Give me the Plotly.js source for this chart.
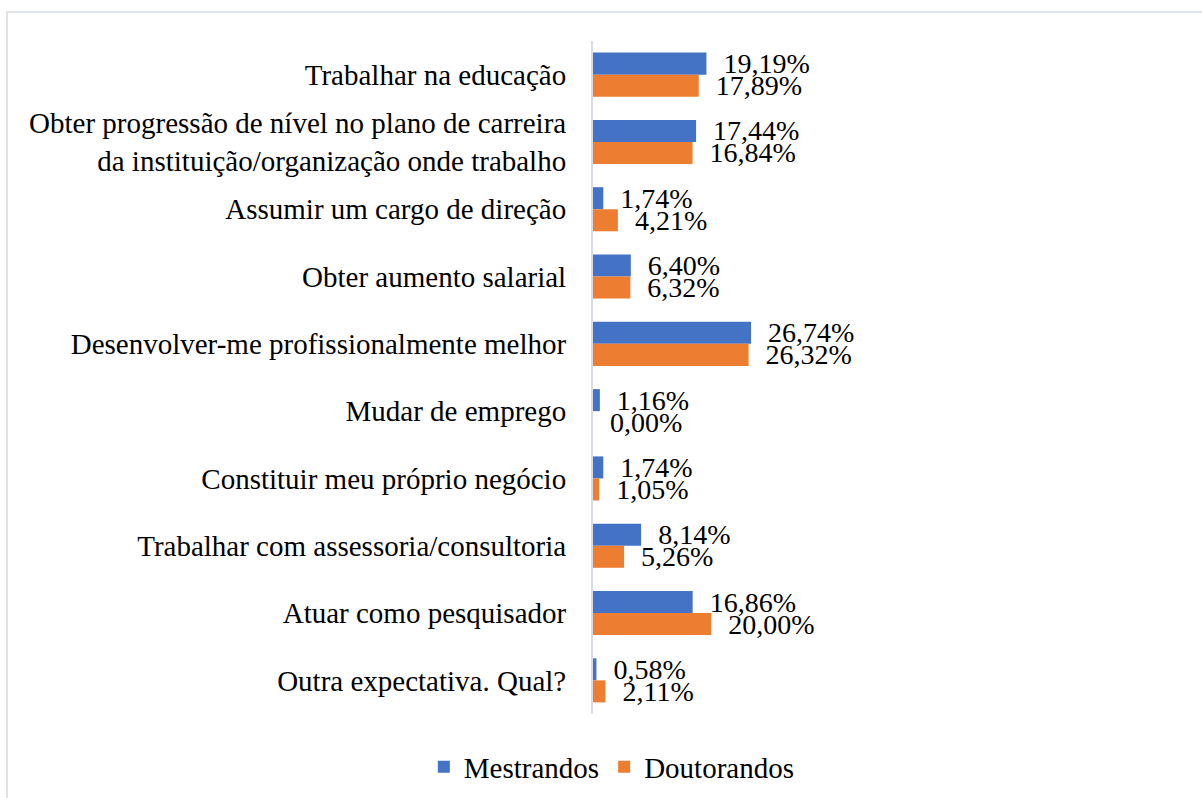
<!DOCTYPE html>
<html>
<head>
<meta charset="utf-8">
<script src="https://cdn.plot.ly/plotly-3.0.1.min.js"></script>
<style>
  html, body { margin: 0; padding: 0; background: #fff; }
  #chart { width: 1202px; height: 798px; position: absolute; left: 0; top: 0; }
  #chart text { font-family: "Liberation Serif", "Times New Roman", serif !important; }
  #frame { position: absolute; left: 6px; top: 11px; width: 1210px; height: 800px;
           border: 2px solid #dfe2e7; pointer-events: none; }
</style>
</head>
<body>
<div id="chart"></div>
<div id="frame"></div>
<script>
const categories = [
  "Trabalhar na educação",
  "Obter progressão de nível no plano de carreira<br>da instituição/organização onde trabalho",
  "Assumir um cargo de direção",
  "Obter aumento salarial",
  "Desenvolver-me profissionalmente melhor",
  "Mudar de emprego",
  "Constituir meu próprio negócio",
  "Trabalhar com assessoria/consultoria",
  "Atuar como pesquisador",
  "Outra expectativa. Qual?"
];
const mestrandos = [19.19, 17.44, 1.74, 6.40, 26.74, 1.16, 1.74, 8.14, 16.86, 0.58];
const doutorandos = [17.89, 16.84, 4.21, 6.32, 26.32, 0.00, 1.05, 5.26, 20.00, 2.11];
const seriesNames = ["Mestrandos", "Doutorandos"];

const font = "Times New Roman";

const traces = [
  {
    type: 'bar', orientation: 'h', name: seriesNames[0],
    y: categories, x: mestrandos,
    marker: { color: '#4472c4' },
    texttemplate: '\u00a0\u00a0%{x:.2f}%', textposition: 'outside',
    textfont: { family: font, size: 28, color: '#000' },
    constraintext: 'none', cliponaxis: false, hoverinfo: 'x+name'
  },
  {
    type: 'bar', orientation: 'h', name: seriesNames[1],
    y: categories, x: doutorandos,
    marker: { color: '#ed7d31' },
    texttemplate: '\u00a0\u00a0%{x:.2f}%', textposition: 'outside',
    textfont: { family: font, size: 28, color: '#000' },
    constraintext: 'none', cliponaxis: false, hoverinfo: 'x+name'
  }
];

const layout = {
  width: 1202, height: 798,
  paper_bgcolor: '#fff', plot_bgcolor: '#fff',
  separators: ',.',
  font: { family: font, size: 29, color: '#000' },
  margin: { l: 593, r: 22, t: 41, b: 84 },
  barmode: 'group', bargap: 0.345, bargroupgap: 0,
  xaxis: { range: [0, 99.3], showticklabels: false, showgrid: false, zeroline: false, showline: false, fixedrange: true },
  yaxis: {
    autorange: 'reversed', showline: true, linecolor: '#d9dde3', linewidth: 2,
    ticks: 'outside', ticklen: 19, tickcolor: 'rgba(0,0,0,0)',
    showgrid: false, zeroline: false, tickfont: { family: font, size: 29, color: '#000' }
  },
  showlegend: true,
  legend: {
    orientation: 'h', xref: 'container', yref: 'container',
    x: 0.509, xanchor: 'center', y: 0.039, yanchor: 'middle',
    font: { family: font, size: 29, color: '#000' }, traceorder: 'normal'
  }
};

Plotly.newPlot('chart', traces, layout, { displayModeBar: false, staticPlot: true });
</script>
</body>
</html>
